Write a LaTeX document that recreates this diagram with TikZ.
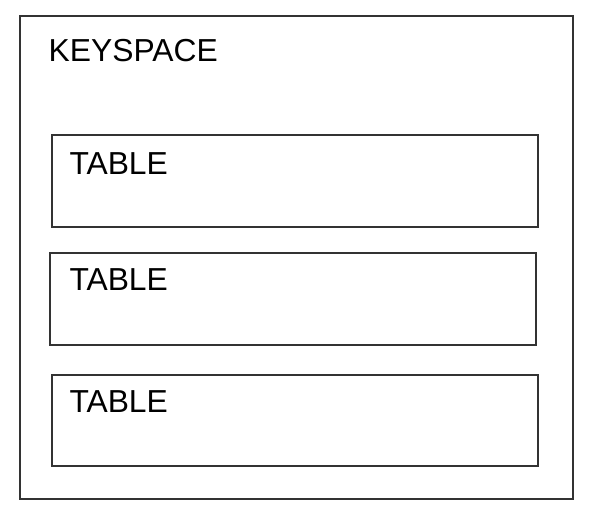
\documentclass[tikz,border=0pt]{standalone}
\usepackage{fontspec}
\setmainfont{Liberation Sans}
\usepackage{tikz}
\usetikzlibrary{positioning}

\begin{document}
\begin{tikzpicture}[
                x=1pt, y=-1pt,
                box/.style={rectangle, draw=black!80, line width=1.3pt, inner sep=0pt},
                tablebox/.style={box, minimum width=486pt, minimum height=92pt},
                title/.style={anchor=base west, inner sep=0pt, font=\fontsize{31.8}{32}\selectfont}
            ]
                \useasboundingbox (0,0) rectangle (589,516);
                % Keyspace
                \node[box, minimum width=553pt, minimum height=483pt] (keyspace) at (296.5,257.5) {};
                \node[title] (kslabel) at (48.5,62) {KEYSPACE};

                % Tables
                \node[tablebox] (tableA) at (295,181) {};
                \node[tablebox] (tableB) at (293,299) {};
                \node[tablebox, minimum height=91pt] (tableC) at (295,420.5) {};
                \node[title] (labelA) at (69.3,175) {TABLE};
                \node[title] (labelB) at (69.3,290) {TABLE};
                \node[title] (labelC) at (69.3,412) {TABLE};
            \end{tikzpicture}
\end{document}
